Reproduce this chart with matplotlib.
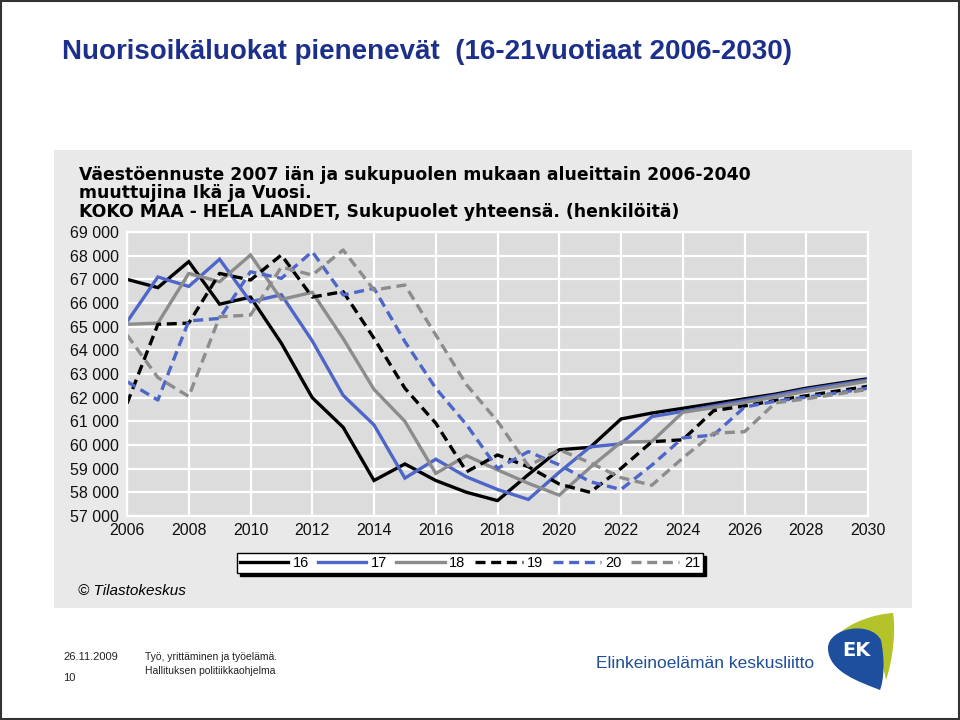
import matplotlib
matplotlib.use("Agg")
import matplotlib.pyplot as plt
from matplotlib.patches import Rectangle, PathPatch
from matplotlib.path import Path

# ---------------- data ----------------
years = list(range(2006, 2031))
ages = ["16", "17", "18", "19", "20", "21"]
age16 = [67000, 66650, 67750, 65950, 66250, 64300, 62000, 60750, 58500, 59200, 58500, 58000, 57650,
         58750, 59800, 59900, 61100, 61350, 61550, 61750, 61950, 62150, 62400, 62600, 62800]
age17 = [65200, 67100, 66700, 67850, 66050, 66350, 64400, 62100, 60850, 58600, 59400, 58650, 58120,
         57700, 58850, 59920, 60050, 61200, 61420, 61650, 61880, 62100, 62350, 62550, 62750]
age18 = [65100, 65150, 67250, 66900, 68030, 66150, 66450, 64500, 62350, 61000, 58800, 59550, 58950,
         58380, 57880, 59050, 60120, 60150, 61380, 61580, 61800, 62030, 62270, 62480, 62700]
age19 = [61750, 65100, 65150, 67250, 66970, 68030, 66250, 66480, 64510, 62400, 60920, 58870, 59580,
         59080, 58350, 58000, 59010, 60140, 60220, 61450, 61650, 61880, 62080, 62280, 62480]
age20 = [62680, 61900, 65240, 65350, 67320, 67040, 68170, 66340, 66620, 64370, 62400, 60850, 59010,
         59720, 59160, 58450, 58120, 59150, 60300, 60420, 61600, 61850, 62020, 62200, 62400]
age21 = [64650, 62850, 62050, 65420, 65490, 67520, 67180, 68240, 66550, 66760, 64650, 62540, 61000,
         59120, 59800, 59250, 58620, 58300, 59450, 60500, 60560, 61780, 61950, 62150, 62350]
series = [age16, age17, age18, age19, age20, age21]
xticks = list(range(2006, 2031, 2))
yticks = list(range(57000, 69001, 1000))

colors = ["#000000", "#4f66c9", "#8c8c8c", "#000000", "#4f66c9", "#8c8c8c"]
styles = ["-", "-", "-", (0, (3, 1.7)), (0, (3, 1.7)), (0, (3, 1.7))]

W, H = 960, 720
def fx(x): return x / W
def fy(y): return 1 - y / H

fig = plt.figure(figsize=(9.6, 7.2), dpi=100)
fig.patch.set_facecolor("white")

# outer frame
fig.add_artist(Rectangle((0.001, 0.001), 0.998, 0.998, transform=fig.transFigure,
                         facecolor="none", edgecolor="#333333", lw=1.5, zorder=-10))

# title
fig.text(fx(62), fy(52), "Nuorisoikäluokat pienenevät  (16-21vuotiaat 2006-2030)",
         fontsize=20, fontweight="bold", color="#1c2f8a", family="Liberation Sans",
         va="center", ha="left")

# chart panel
fig.add_artist(Rectangle((fx(54), fy(608)), (912 - 54) / W, (608 - 150) / H,
                         transform=fig.transFigure, facecolor="#e9e9e9",
                         edgecolor="none", zorder=-5))

inner = ["Väestöennuste 2007 iän ja sukupuolen mukaan alueittain 2006-2040",
         "muuttujina Ikä ja Vuosi.",
         "KOKO MAA - HELA LANDET, Sukupuolet yhteensä. (henkilöitä)"]
for i, t in enumerate(inner):
    fig.text(fx(79), fy(175 + i * 18.5), t, fontsize=12.4, fontweight="bold",
             family="DejaVu Sans", color="black", va="center", ha="left")

ax = fig.add_axes([fx(127), fy(516), (868 - 127) / W, (516 - 232) / H])
ax.set_facecolor("#dcdcdc")
for yv, c, ls, lab in zip(series, colors, styles, ages):
    ax.plot(years, yv, color=c, linestyle=ls, lw=2.4, label=lab, solid_joinstyle="miter")
ax.set_xlim(2006, 2030)
ax.set_ylim(57000, 69000)
ax.set_xticks(xticks)
ax.set_xticklabels([str(x) for x in xticks])
ax.set_yticks(yticks)
ax.set_yticklabels([f"{v // 1000} 000" for v in yticks])
ax.grid(True, color="white", lw=1.6)
ax.set_axisbelow(True)
for s in ax.spines.values():
    s.set_color("white")
    s.set_linewidth(1.6)
ax.tick_params(length=0, labelsize=11.5, labelcolor="#111111")
ax.tick_params(axis="y", pad=6)
ax.tick_params(axis="x", pad=5)
for lbl in ax.get_xticklabels() + ax.get_yticklabels():
    lbl.set_family("Liberation Sans")

handles, labels = ax.get_legend_handles_labels()
leg = fig.legend(handles, labels, loc="center", bbox_to_anchor=(fx(470), fy(563)), ncol=6,
                 frameon=True, fancybox=False, shadow={"color": "black", "alpha": 1},
                 edgecolor="black", framealpha=1, handlelength=3.3, handletextpad=0.3,
                 columnspacing=0.65, borderpad=0.2, borderaxespad=0,
                 prop={"family": "Liberation Sans", "size": 10.5})
leg.get_frame().set_linewidth(1.0)

fig.text(fx(78), fy(591), "© Tilastokeskus", fontsize=11, style="italic",
         family="Liberation Sans", va="center", ha="left")

# footer
foot = dict(fontsize=8, family="Liberation Sans", color="#222222", va="center", ha="left")
fig.text(fx(63), fy(657), "26.11.2009", **foot)
fig.text(fx(63), fy(678), "10", **foot)
foot2 = dict(fontsize=7.5, family="Liberation Sans", color="#222222", va="center", ha="left")
fig.text(fx(145), fy(657), "Työ, yrittäminen ja työelämä.", **foot2)
fig.text(fx(145), fy(671), "Hallituksen politiikkaohjelma", **foot2)

fig.text(fx(596), fy(663), "Elinkeinoelämän keskusliitto", fontsize=12.5,
         family="Liberation Sans", color="#1f4e9c", va="center", ha="left")

# EK logo
def pp(pts):
    return [(fx(x), fy(y)) for x, y in pts]

codes = [Path.MOVETO, Path.CURVE4, Path.CURVE4, Path.CURVE4,
         Path.CURVE4, Path.CURVE4, Path.CURVE4,
         Path.CURVE4, Path.CURVE4, Path.CURVE4]
yel = Path(pp([(836, 636), (850, 622), (875, 614), (893, 613),
               (896, 630), (893, 660), (886, 680),
               (880, 650), (870, 628), (836, 636)]), codes)
fig.add_artist(PathPatch(yel, transform=fig.transFigure, facecolor="#b5c32b",
                         edgecolor="none", zorder=5))
blu = Path(pp([(828, 648), (828, 628), (870, 620), (881, 640),
               (885, 660), (884, 680), (880, 690),
               (860, 682), (828, 672), (828, 648)]), codes)
fig.add_artist(PathPatch(blu, transform=fig.transFigure, facecolor="#1d4f9e",
                         edgecolor="none", zorder=6))
t = fig.text(fx(856), fy(651), "EK", fontsize=14, fontweight="bold", color="white",
             family="DejaVu Sans", va="center", ha="center")
t.set_zorder(7)

fig.savefig("out.png", dpi=100)
